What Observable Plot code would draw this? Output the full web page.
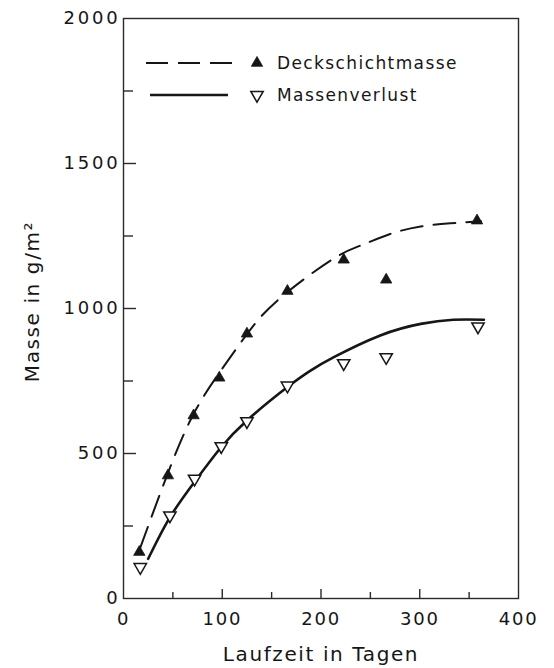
<!DOCTYPE html>
<html>
<head>
<meta charset="utf-8">
<script src="https://cdn.jsdelivr.net/npm/d3@7"></script>
<script src="https://cdn.jsdelivr.net/npm/@observablehq/plot@0.6"></script>
<style>
  html, body { margin: 0; padding: 0; background: #fff; }
  #wrap { position: relative; width: 554px; height: 668px; font-family: "DejaVu Sans", sans-serif; color: #1a1a1a; }
  #legend { position: absolute; left: 0; top: 0; pointer-events: none; }
</style>
</head>
<body>
<div id="wrap"></div>
<script>
// --- Data ---
const deckDays   = [16, 45, 71, 97, 125, 166, 223, 266, 358];
const deckMass   = [160, 424, 631, 761, 913, 1060, 1168, 1099, 1303];
const verlDays   = [17, 47, 72, 99, 125, 166, 223, 266, 359];
const verlMass   = [108, 286, 413, 525, 611, 734, 811, 832, 938];

// fitted curves as drawn in the figure
const deckFitDays = [17, 44, 70, 97, 124, 156, 210, 240, 270, 301, 331, 362];
const deckFitMass = [175, 424, 630, 778, 907, 1028, 1166, 1217, 1257, 1283, 1294, 1301];
const verlFitDays = [25, 47, 73, 98, 125, 166, 189, 213, 260, 301, 334, 365];
const verlFitMass = [137, 280, 407, 518, 614, 729, 785, 832, 907, 947, 961, 961];

const xLabelTicks = [0, 100, 200, 300, 400];
const xMajorTicks = [100, 200, 300];
const xMinorTicks = [50, 150, 250, 350];
const yLabelTicks = [0, 500, 1000, 1500, 2000];
const yMajorTicks = [500, 1000, 1500];
const yMinorTicks = [250, 750, 1250, 1750];

const seriesNames = ["Deckschichtmasse", "Massenverlust"];
const xTitle = "Laufzeit in Tagen";
const yTitle = "Masse in g/m²";

const zip = (xs, ys) => xs.map((x, i) => ({x, y: ys[i]}));
const deckPts = zip(deckDays, deckMass);
const verlPts = zip(verlDays, verlMass);
const deckFit = zip(deckFitDays, deckFitMass);
const verlFit = zip(verlFitDays, verlFitMass);

const ink = "#161616";
const W = 554, H = 668;
const mL = 123, mR = 36, mT = 18, mB = 70;
const fw = W - mL - mR, fh = H - mT - mB;

const triDown = {
  draw(context, size) {
    const y = -Math.sqrt(size / (Math.sqrt(3) * 3));
    context.moveTo(0, -y * 2);
    context.lineTo(-Math.sqrt(3) * y, y);
    context.lineTo(Math.sqrt(3) * y, y);
    context.closePath();
  }
};

const chart = Plot.plot({
  width: W, height: H,
  marginLeft: mL, marginRight: mR, marginTop: mT, marginBottom: mB,
  style: {fontFamily: "DejaVu Sans, sans-serif", color: ink, background: "#fff"},
  x: {domain: [0, 400]},
  y: {domain: [0, 2000]},
  marks: [
    Plot.frame({stroke: "#2a2a2a", strokeWidth: 1.4}),
    Plot.tickX(xMajorTicks, {x: d => d, insetTop: fh - 9, stroke: "#2a2a2a", strokeWidth: 1.4}),
    Plot.tickX(xMinorTicks, {x: d => d, insetTop: fh - 6, stroke: "#2a2a2a", strokeWidth: 1.4}),
    Plot.tickY(yMajorTicks, {y: d => d, insetRight: fw - 13, stroke: "#2a2a2a", strokeWidth: 1.4}),
    Plot.tickY(yMinorTicks, {y: d => d, insetRight: fw - 10, stroke: "#2a2a2a", strokeWidth: 1.4}),
    Plot.axisX({ticks: xLabelTicks, tickSize: 0, tickPadding: 14, fontSize: 18, label: null, tickFormat: d => String(d)}),
    Plot.axisY({ticks: yLabelTicks, tickSize: 0, tickPadding: 3, fontSize: 18, label: null, tickFormat: d => String(d)}),
    Plot.line(deckFit, {x: "x", y: "y", curve: "natural", stroke: ink, strokeWidth: 2, strokeDasharray: "22,11"}),
    Plot.line(verlFit, {x: "x", y: "y", curve: "natural", stroke: ink, strokeWidth: 2.6}),
    Plot.dot(deckPts, {x: "x", y: "y", symbol: "triangle", r: 4.2, fill: ink, stroke: ink, strokeWidth: 0.8}),
    Plot.dot(verlPts, {x: "x", y: "y", symbol: triDown, r: 4.6, fill: "white", stroke: ink, strokeWidth: 1.5}),
    Plot.text([xTitle], {frameAnchor: "bottom", dy: 56, fontSize: 20, textAnchor: "middle", lineAnchor: "middle", fill: ink}),
    Plot.text([yTitle], {frameAnchor: "left", dx: -91, dy: -7, rotate: -90, fontSize: 20, textAnchor: "middle", lineAnchor: "middle", fill: ink})
  ]
});

const sel = d3.select(chart);
sel.selectAll('[aria-label="y-axis tick label"] text').attr("letter-spacing", 2.8);
sel.selectAll('[aria-label="x-axis tick label"] text').attr("letter-spacing", 1.8);
sel.selectAll('[aria-label="text"] text').attr("letter-spacing", 1.6);

const wrap = document.getElementById("wrap");
wrap.appendChild(chart);

// --- Legend overlay ---
const leg = d3.select(wrap).append("svg")
  .attr("id", "legend").attr("width", W).attr("height", 130)
  .style("font-family", "DejaVu Sans, sans-serif");
const rows = [
  {name: seriesNames[0], y: 63, dash: "22,10", sw: 1.8, sym: d3.symbolTriangle, fill: ink, r: 4.2, down: false},
  {name: seriesNames[1], y: 95, dash: null, sw: 2.6, sym: triDown, fill: "white", r: 4.6, down: true}
];
rows.forEach((r, i) => {
  const g = leg.append("g");
  g.append("line").attr("x1", i === 0 ? 146 : 150).attr("x2", i === 0 ? 236 : 228)
    .attr("y1", r.y).attr("y2", r.y).attr("stroke", ink).attr("stroke-width", r.sw)
    .attr("stroke-dasharray", r.dash);
  g.append("path").attr("transform", `translate(257,${r.y})`)
    .attr("d", d3.symbol(r.sym, Math.PI * r.r * r.r)())
    .attr("fill", r.fill).attr("stroke", ink).attr("stroke-width", r.down ? 1.5 : 0.8);
  g.append("text").attr("x", 277).attr("y", r.y).attr("dy", "0.36em")
    .attr("font-size", 17).attr("letter-spacing", 1.4).attr("fill", ink).text(r.name);
});
</script>
</body>
</html>
